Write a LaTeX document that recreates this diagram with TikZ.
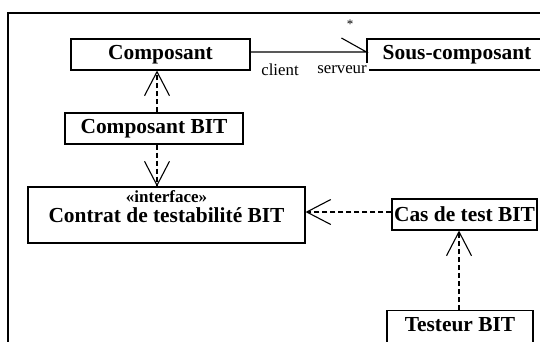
\documentclass[tikz,border=0pt]{standalone}
\usepackage{fontspec}
\setmainfont{Liberation Serif}
\usetikzlibrary{arrows.meta,calc}
\tikzset{
  box/.style={draw, line width=1.1pt, inner sep=0pt, fill=white},
  big/.style={font=\fontsize{21.4}{22}\selectfont\bfseries, inner sep=0pt},
  small/.style={font=\fontsize{16.8}{17}\selectfont, inner sep=0pt},
  dep/.style={line width=1.1pt, dash pattern=on 5pt off 3pt, -{Straight Barb[length=24pt,width=25pt,line width=1.1pt]}},
  assoc/.style={line width=1.1pt}
}
\begin{document}
\begin{tikzpicture}[x=1pt,y=-1pt]
\useasboundingbox (0,0) rectangle (540,341);
\clip (0,0) rectangle (540,341);
\fill[white] (0,0) rectangle (540,341);
% outer frame (clipped on right and bottom)
\draw[line width=1.4pt] (8,360) -- (8,13) -- (560,13);
% boxes
\node[box, big, minimum width=179pt, minimum height=31pt] (comp) at (160.5,54.5) {Composant};
\node[box, big, minimum width=180pt, minimum height=31pt] (sous) at (457,54.5) {Sous-composant};
\node[box, big, minimum width=178pt, minimum height=31pt] (compbit) at (154,128.5) {Composant BIT};
\node[box, minimum width=277pt, minimum height=56pt] (iface) at (166.5,215) {};
\node[inner sep=0pt, text depth=0pt, anchor=base, font=\fontsize{17}{17}\selectfont\bfseries] (ifst) at (166.5,202) {«interface»};
\node[big, anchor=base, text height=15pt] (iftitle) at (166.5,222) {Contrat de testabilité BIT};
\node[box, big, minimum width=145pt, minimum height=31pt] (cas) at (464.5,214.5) {Cas de test BIT};
\node[box, minimum width=146pt, minimum height=40pt, anchor=north] (test) at (460,310) {};
\node[big] (testlbl) at (460,324.5) {Testeur BIT};
% helper coordinates
\coordinate (xa) at (157,0);
\coordinate (xb) at (459,0);
\coordinate (ya) at (0,212);
\coordinate (yb) at (0,52);
% association
\draw[assoc] (comp.east |- yb) -- (sous.west |- yb) -- ++(-25,-14);
\node[small, fill=white, inner sep=2.5pt] (serv) at (342,70) {serveur};
\node[small] (cli) at (280,70) {client};
\node[font=\fontsize{13}{13}\selectfont, inner sep=0pt] (star) at (350,24) {*};
% dependencies
\draw[dep] (compbit.north -| xa) -- (comp.south -| xa);
\draw[dep] (compbit.south -| xa) -- (iface.north -| xa);
\draw[dep] (cas.west |- ya) -- (iface.east |- ya);
\draw[dep] (test.north -| xb) -- (cas.south -| xb);
\end{tikzpicture}
\end{document}
